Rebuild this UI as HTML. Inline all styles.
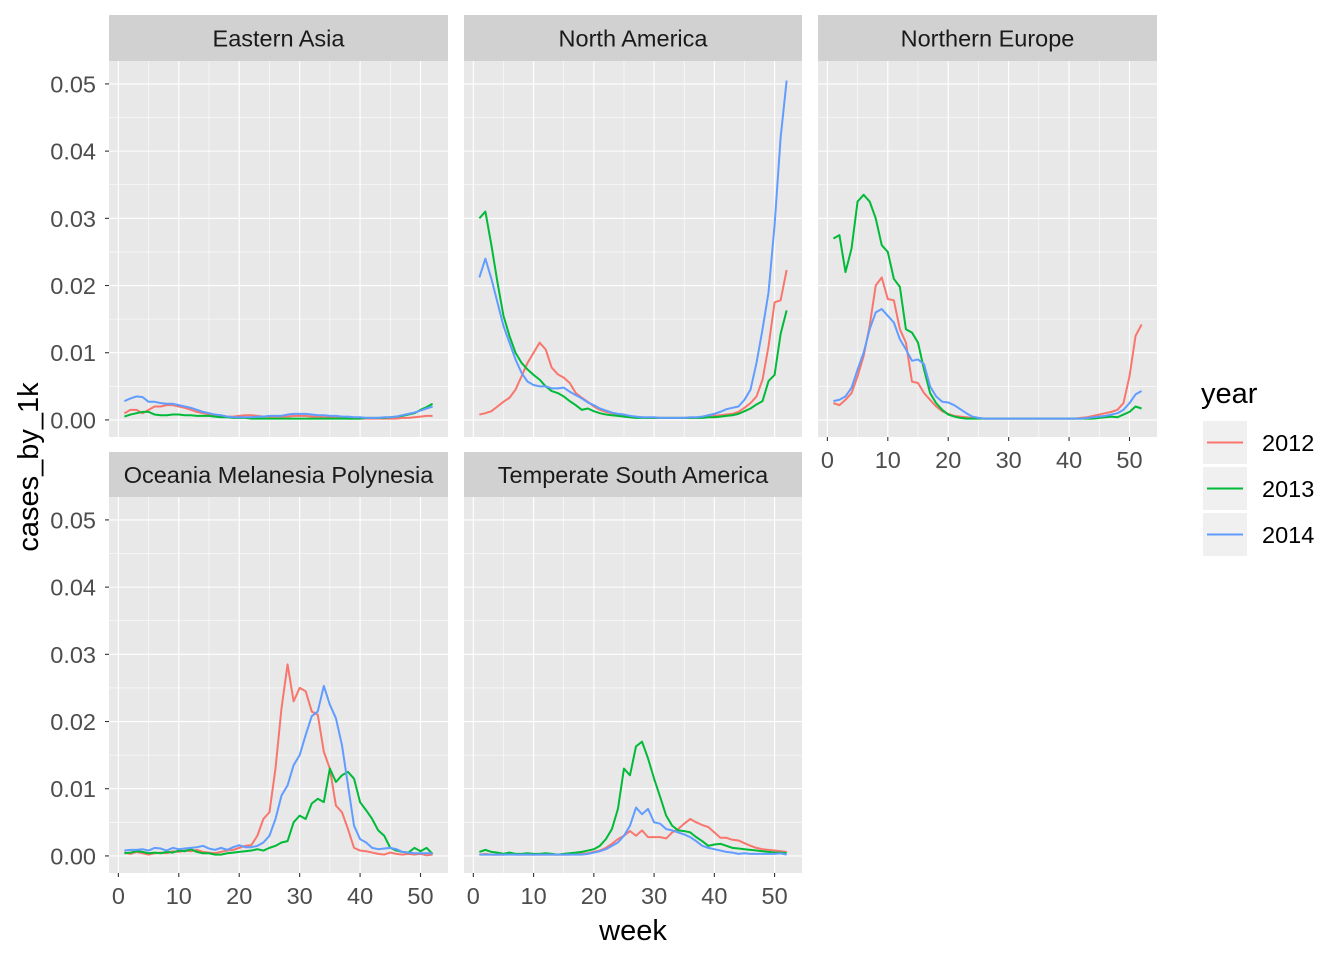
<!DOCTYPE html>
<html><head><meta charset="utf-8"><style>
body{margin:0;background:#fff;}
svg{display:block;font-family:"Liberation Sans",Arial,sans-serif;}
</style></head><body>
<svg id="chart" width="1344" height="960" viewBox="0 0 1344 960"></svg>
<script>
const regions = ["Eastern Asia","North America","Northern Europe","Oceania Melanesia Polynesia","Temperate South America"];
const years = ["2012","2013","2014"];
const colors = ["#F8766D","#00BA38","#619CFF"];
const xTicks = [0,10,20,30,40,50];
const yTicks = [0,0.01,0.02,0.03,0.04,0.05];
const yTickLabels = ["0.00","0.01","0.02","0.03","0.04","0.05"];

const ea2012 = [0.001,0.0015,0.0015,0.001,0.0015,0.002,0.002,0.0022,0.0022,0.002,
0.0018,0.0015,0.0012,0.001,0.0008,0.0007,0.0006,0.0005,0.0005,0.0006,
0.0007,0.0007,0.0006,0.0005,0.0005,0.0005,0.0005,0.0005,0.0006,0.0006,
0.0006,0.0005,0.0005,0.0004,0.0004,0.0003,0.0003,0.0002,0.0002,0.0002,
0.0002,0.0002,0.0002,0.0002,0.0002,0.0002,0.0003,0.0003,0.0004,0.0005,
0.0006,0.0006];
const ea2013 = [0.0005,0.0008,0.001,0.0012,0.0012,0.0008,0.0007,0.0007,0.0008,0.0008,
0.0007,0.0007,0.0006,0.0006,0.0006,0.0005,0.0004,0.0004,0.0003,0.0003,
0.0003,0.0002,0.0002,0.0002,0.0002,0.0002,0.0002,0.0002,0.0002,0.0002,
0.0002,0.0002,0.0002,0.0002,0.0002,0.0002,0.0002,0.0002,0.0002,0.0002,
0.0003,0.0003,0.0003,0.0003,0.0004,0.0005,0.0006,0.0008,0.001,0.0015,
0.0019,0.0024];
const ea2014 = [0.0028,0.0032,0.0035,0.0034,0.0027,0.0027,0.0025,0.0024,0.0024,0.0022,
0.002,0.0018,0.0015,0.0012,0.001,0.0008,0.0007,0.0005,0.0004,0.0004,
0.0004,0.0004,0.0005,0.0005,0.0006,0.0006,0.0006,0.0008,0.0009,0.0009,
0.0009,0.0008,0.0007,0.0007,0.0006,0.0006,0.0005,0.0005,0.0004,0.0004,
0.0003,0.0003,0.0003,0.0004,0.0004,0.0005,0.0007,0.0009,0.0011,0.0014,
0.0017,0.002];

const na2012 = [0.0008,0.001,0.0013,0.002,0.0027,0.0033,0.0045,0.0065,0.0085,0.01,
0.0115,0.0105,0.0078,0.0068,0.0063,0.0055,0.004,0.0033,0.0027,0.002,
0.0015,0.0012,0.001,0.0008,0.0006,0.0005,0.0004,0.0004,0.0003,0.0003,
0.0003,0.0003,0.0003,0.0003,0.0003,0.0003,0.0003,0.0004,0.0005,0.0006,
0.0007,0.0008,0.0009,0.0012,0.0018,0.0025,0.0035,0.006,0.011,0.0175,
0.0178,0.0223];
const na2013 = [0.03,0.031,0.026,0.0205,0.0155,0.0125,0.01,0.0085,0.0075,0.0067,
0.006,0.005,0.0043,0.004,0.0035,0.0028,0.0022,0.0015,0.0017,0.0013,
0.001,0.0008,0.0007,0.0006,0.0005,0.0004,0.0003,0.0003,0.0003,0.0003,
0.0003,0.0003,0.0003,0.0003,0.0003,0.0003,0.0003,0.0003,0.0004,0.0004,
0.0005,0.0006,0.0007,0.0009,0.0013,0.0017,0.0023,0.0028,0.0058,0.0067,
0.0128,0.0163];
const na2014 = [0.0212,0.024,0.021,0.0175,0.014,0.0115,0.009,0.007,0.0057,0.0052,
0.005,0.005,0.0047,0.0047,0.0048,0.0042,0.0037,0.0032,0.0026,0.0022,
0.0017,0.0014,0.0011,0.0009,0.0008,0.0006,0.0005,0.0004,0.0004,0.0004,
0.0003,0.0003,0.0003,0.0003,0.0003,0.0004,0.0004,0.0005,0.0007,0.0009,
0.0012,0.0016,0.0018,0.002,0.003,0.0045,0.0085,0.0135,0.019,0.029,
0.042,0.0505];

const ne2012 = [0.0025,0.0022,0.003,0.004,0.0065,0.0095,0.014,0.02,0.0212,0.018,
0.0178,0.0135,0.0115,0.0057,0.0055,0.004,0.003,0.002,0.0013,0.0009,
0.0006,0.0005,0.0004,0.0003,0.0003,0.0002,0.0002,0.0002,0.0002,0.0002,
0.0002,0.0002,0.0002,0.0002,0.0002,0.0002,0.0002,0.0002,0.0002,0.0002,
0.0002,0.0003,0.0004,0.0006,0.0008,0.001,0.0012,0.0015,0.0025,0.0065,
0.0125,0.0142];
const ne2013 = [0.027,0.0275,0.022,0.0255,0.0325,0.0335,0.0325,0.030,0.026,0.025,
0.021,0.0198,0.0135,0.013,0.0115,0.0075,0.004,0.0025,0.0015,0.0008,
0.0005,0.0003,0.0002,0.0002,0.0002,0.0002,0.0002,0.0002,0.0002,0.0002,
0.0002,0.0002,0.0002,0.0002,0.0002,0.0002,0.0002,0.0002,0.0002,0.0002,
0.0002,0.0002,0.0002,0.0002,0.0003,0.0004,0.0005,0.0004,0.0008,0.0012,
0.002,0.0017];
const ne2014 = [0.0028,0.003,0.0035,0.0048,0.0075,0.01,0.0135,0.016,0.0165,0.0155,
0.0145,0.012,0.0105,0.0088,0.009,0.0083,0.005,0.0035,0.0027,0.0026,
0.0022,0.0016,0.001,0.0005,0.0003,0.0002,0.0002,0.0002,0.0002,0.0002,
0.0002,0.0002,0.0002,0.0002,0.0002,0.0002,0.0002,0.0002,0.0002,0.0002,
0.0002,0.0002,0.0003,0.0004,0.0005,0.0006,0.0008,0.001,0.0015,0.0025,
0.0038,0.0043];

const oc2012 = [0.0005,0.0003,0.0006,0.0004,0.0002,0.0004,0.0005,0.0004,0.0007,0.0006,
0.0008,0.0007,0.0009,0.0006,0.0005,0.0004,0.0006,0.0008,0.0009,0.0012,
0.0015,0.0016,0.003,0.0055,0.0065,0.013,0.022,0.0285,0.023,0.025,
0.0245,0.0215,0.021,0.0155,0.013,0.0075,0.0065,0.004,0.0012,0.0008,
0.0007,0.0005,0.0003,0.0002,0.0005,0.0003,0.0002,0.0003,0.0002,0.0003,
0.0001,0.0002];
const oc2013 = [0.0004,0.0005,0.0007,0.0006,0.0004,0.0005,0.0004,0.0006,0.0005,0.0008,
0.0007,0.001,0.0006,0.0004,0.0004,0.0002,0.0002,0.0004,0.0005,0.0006,
0.0007,0.0008,0.001,0.0008,0.0012,0.0015,0.002,0.0022,0.005,0.006,
0.0055,0.0078,0.0085,0.008,0.013,0.011,0.012,0.0125,0.0115,0.008,
0.0068,0.0055,0.0038,0.003,0.0012,0.0008,0.0006,0.0005,0.0012,0.0007,
0.0012,0.0003];
const oc2014 = [0.0008,0.0009,0.0009,0.001,0.0008,0.0012,0.0011,0.0008,0.0012,0.001,
0.0011,0.0012,0.0013,0.0015,0.0011,0.0009,0.0012,0.0009,0.0013,0.0016,
0.0013,0.0013,0.0015,0.002,0.003,0.0055,0.009,0.0105,0.0135,0.015,
0.018,0.0208,0.0215,0.0253,0.0225,0.0205,0.0165,0.0105,0.0045,0.0025,
0.002,0.0012,0.001,0.0011,0.0012,0.001,0.0006,0.0005,0.0004,0.0004,
0.0004,0.0004];

const ts2012 = [0.0002,0.0003,0.0002,0.0002,0.0002,0.0003,0.0002,0.0002,0.0002,0.0002,
0.0002,0.0002,0.0002,0.0002,0.0002,0.0002,0.0003,0.0003,0.0004,0.0006,
0.0008,0.0012,0.0018,0.0025,0.003,0.0037,0.003,0.0038,0.0028,0.0028,
0.0028,0.0026,0.0035,0.004,0.0048,0.0055,0.005,0.0046,0.0043,0.0035,
0.0027,0.0027,0.0024,0.0023,0.0019,0.0015,0.0012,0.001,0.0009,0.0008,
0.0007,0.0006];
const ts2013 = [0.0006,0.0009,0.0006,0.0005,0.0003,0.0005,0.0003,0.0003,0.0004,0.0003,
0.0003,0.0004,0.0003,0.0002,0.0003,0.0004,0.0005,0.0006,0.0008,0.001,
0.0015,0.0025,0.004,0.007,0.013,0.012,0.0163,0.017,0.0145,0.0115,
0.0088,0.006,0.0045,0.0038,0.0037,0.0035,0.0028,0.0022,0.0015,0.0017,
0.0018,0.0015,0.0012,0.0011,0.001,0.0009,0.0008,0.0007,0.0006,0.0005,
0.0005,0.0004];
const ts2014 = [0.0002,0.0002,0.0002,0.0002,0.0002,0.0002,0.0002,0.0002,0.0002,0.0002,
0.0002,0.0002,0.0002,0.0002,0.0002,0.0002,0.0002,0.0002,0.0003,0.0005,
0.0007,0.001,0.0015,0.002,0.003,0.0045,0.0072,0.0062,0.007,0.005,
0.0048,0.004,0.0038,0.0035,0.0032,0.0028,0.0022,0.0015,0.0012,0.001,
0.0008,0.0006,0.0005,0.0003,0.0004,0.0003,0.0003,0.0003,0.0003,0.0003,
0.0004,0.0002];

const series = [[ea2012,ea2013,ea2014],[na2012,na2013,na2014],[ne2012,ne2013,ne2014],[oc2012,oc2013,oc2014],[ts2012,ts2013,ts2014]];

const NS = "http://www.w3.org/2000/svg";
const svg = document.getElementById("chart");
function mk(tag, attrs, parent){const e=document.createElementNS(NS,tag);for(const k in attrs)e.setAttribute(k,attrs[k]);(parent||svg).appendChild(e);return e;}

const cols = [[109,448],[464,802],[818,1157]];
const rows = [[15,61,437],[452,497,873]];
const panels = [
 {c:0,r:0,xl:false,yl:true},{c:1,r:0,xl:false,yl:false},{c:2,r:0,xl:true,yl:false},
 {c:0,r:1,xl:true,yl:true},{c:1,r:1,xl:true,yl:false}];
const XMIN=-1.55, XMAX=54.55, YMIN=-0.00254, YMAX=0.05341;
const FS = 23.5;

panels.forEach((p,i)=>{
  const [x0,x1]=cols[p.c]; const [s0,y0,y1]=rows[p.r];
  const xs=w=>x0+(w-XMIN)/(XMAX-XMIN)*(x1-x0);
  const ys=v=>y1-(v-YMIN)/(YMAX-YMIN)*(y1-y0);
  const g=mk("g",{});
  
  
  const strip=mk("rect",{x:x0,y:s0,width:x1-x0,height:y0-s0,fill:"#D1D1D1"},g);
  
  
  const st=mk("text",{x:(x0+x1)/2,y:(s0+y0)/2+8.5,"text-anchor":"middle","font-size":FS,fill:"#1A1A1A"},g);
  st.textContent=regions[i];
  
  
  const bg=mk("rect",{x:x0,y:y0,width:x1-x0,height:y1-y0,fill:"#E8E8E8"},g);
  
  
  xTicks.forEach(t=>{const m=t+5; if(m<=XMAX) mk("line",{x1:xs(m),x2:xs(m),y1:y0,y2:y1,stroke:"#fff","stroke-width":0.55},g);});
  yTicks.forEach(t=>{const m=t+0.005; if(m<=YMAX) mk("line",{x1:x0,x2:x1,y1:ys(m),y2:ys(m),stroke:"#fff","stroke-width":0.55},g);});
  xTicks.forEach(t=>mk("line",{x1:xs(t),x2:xs(t),y1:y0,y2:y1,stroke:"#fff","stroke-width":1.1},g));
  yTicks.forEach(t=>mk("line",{x1:x0,x2:x1,y1:ys(t),y2:ys(t),stroke:"#fff","stroke-width":1.1},g));
  series[i].forEach((arr,k)=>{
    const d=arr.map((v,j)=>(j?"L":"M")+xs(j+1).toFixed(2)+","+ys(v).toFixed(2)).join("");
    const pth=mk("path",{d:d,fill:"none",stroke:colors[k],"stroke-width":2,"stroke-linejoin":"round"},g);
    
    
  });
  if(p.yl){
    yTicks.forEach((t,j)=>{
      mk("line",{x1:x0-4,x2:x0,y1:ys(t),y2:ys(t),stroke:"#333","stroke-width":1.1},g);
      const tx=mk("text",{x:x0-13,y:ys(t)+8.5,"text-anchor":"end","font-size":FS,fill:"#4D4D4D"},g);
      tx.textContent=yTickLabels[j];
      
      
    });
  }
  if(p.xl){
    xTicks.forEach(t=>{
      mk("line",{x1:xs(t),x2:xs(t),y1:y1,y2:y1+4,stroke:"#333","stroke-width":1.1},g);
      const tx=mk("text",{x:xs(t),y:y1+31,"text-anchor":"middle","font-size":FS,fill:"#4D4D4D"},g);
      tx.textContent=String(t);
      
      
    });
  }
});

const yt=mk("text",{x:0,y:0,transform:"translate(38,467) rotate(-90)","text-anchor":"middle","font-size":"29",fill:"#000"});
yt.textContent="cases_by_1k";


const xt=mk("text",{x:633,y:940,"text-anchor":"middle","font-size":"29",fill:"#000"});
xt.textContent="week";



const lg=mk("g",{});


const lt=mk("text",{x:1201,y:403,"font-size":"29",fill:"#000"},lg);
lt.textContent="year";


years.forEach((yr,k)=>{
  const top=421+k*46;
  const e=mk("g",{},lg);
  
  
  mk("rect",{x:1203,y:top,width:44,height:43,fill:"#F0F0F0"},e);
  mk("line",{x1:1207,x2:1243,y1:top+21.5,y2:top+21.5,stroke:colors[k],"stroke-width":2},e);
  const t=mk("text",{x:1262,y:top+30,"font-size":FS,fill:"#000"},e);
  t.textContent=yr;
});
</script>
</body></html>
